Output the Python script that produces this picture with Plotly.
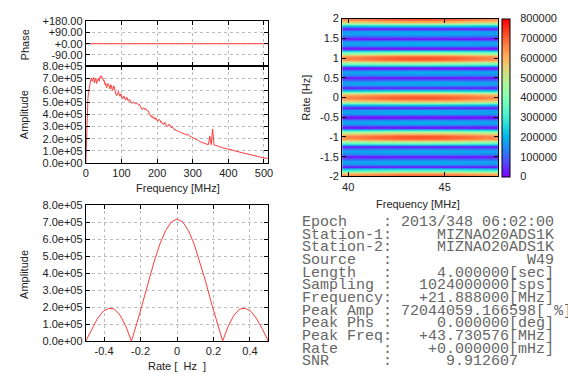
import math
import plotly.graph_objects as go

# ---------------- data ----------------
# Cross-power spectrum: amplitude vs frequency (MHz)
FREQ_MHZ = [
    0, 2, 4, 6, 8, 10, 12, 14, 16, 18, 20, 22, 24, 26, 28, 30, 32, 34, 36, 38,
    40, 42, 44, 46, 48, 50, 52, 54, 56, 58, 60, 62, 64, 66, 68, 70, 72, 74, 76,
    78, 80, 82, 84, 86, 88, 90, 92, 94, 96, 98, 100, 102, 104, 106, 108, 110,
    112, 114, 116, 118, 120, 122, 124, 126, 128, 130, 132, 134, 136, 138, 140,
    142, 144, 146, 148, 150, 152, 154, 156, 158, 160, 162, 164, 166, 168, 170,
    172, 174, 176, 178, 180, 182, 184, 186, 188, 190, 192, 194, 196, 198, 200,
    202, 204, 206, 208, 210, 212, 214, 216, 218, 220, 222, 224, 226, 228, 230,
    232, 234, 236, 238, 240, 242, 244, 246, 248, 250, 252, 254, 256, 258, 260,
    264, 268, 272, 276, 280, 284, 288, 292, 296, 300, 304, 308, 312, 316, 320,
    324, 328, 332, 336, 340, 344, 348, 352, 356, 360, 364, 368, 372, 376, 380,
    384, 388, 392, 396, 400, 404, 408, 412, 416, 420, 424, 428, 432, 436, 440,
    444, 448, 452, 456, 460, 464, 468, 472, 476, 480, 484, 488, 492, 496, 500,
    504, 508, 512,
]
AMPLITUDE = [
    0.0e5, 2.5e5, 4.5e5, 5.4e5, 5.9e5, 6.3e5, 6.5e5, 6.9e5, 7.0e5, 6.75e5,
    6.9e5, 7.05e5, 6.6e5, 6.85e5, 7.0e5, 6.55e5, 6.7e5, 6.95e5, 6.9e5, 6.75e5,
    7.15e5, 7.05e5, 7.2e5, 6.95e5, 7.0e5, 6.75e5, 6.8e5, 6.45e5, 6.6e5, 6.2e5,
    6.3e5, 6.55e5, 6.5e5, 6.1e5, 6.1e5, 6.45e5, 6.4e5, 6.05e5, 6.0e5,
    6.35e5, 6.3e5, 5.95e5, 5.8e5, 5.55e5, 5.6e5, 5.85e5, 5.9e5, 5.6e5, 5.5e5,
    5.7e5, 5.6e5, 5.35e5, 5.3e5, 5.5e5, 5.5e5, 5.25e5,
    5.2e5, 5.4e5, 5.4e5, 5.15e5, 5.1e5, 5.25e5, 5.2e5, 5.0e5, 5.0e5, 4.9e5,
    4.95e5, 5.05e5, 5.0e5, 4.85e5, 4.85e5,
    4.95e5, 4.9e5, 4.8e5, 4.8e5, 4.85e5, 4.75e5, 4.65e5, 4.6e5, 4.4e5, 4.5e5,
    4.55e5, 4.45e5, 4.4e5, 4.5e5, 4.4e5,
    4.3e5, 4.35e5, 4.2e5, 4.1e5, 4.0e5, 3.85e5, 3.9e5, 3.75e5, 3.85e5, 3.65e5,
    3.7e5, 3.6e5, 3.75e5, 3.55e5, 3.6e5,
    3.45e5, 3.5e5, 3.6e5, 3.55e5, 3.35e5, 3.4e5, 3.25e5, 3.3e5, 3.15e5, 3.2e5,
    3.35e5, 3.25e5, 3.05e5, 3.1e5, 3.0e5,
    3.05e5, 3.2e5, 3.15e5, 2.95e5, 2.9e5, 3.0e5, 2.95e5, 2.8e5, 2.8e5, 2.7e5,
    2.75e5, 2.65e5, 2.7e5, 2.6e5, 2.6e5,
    2.55e5, 2.5e5, 2.45e5, 2.4e5, 2.35e5, 2.3e5, 2.35e5, 2.2e5, 2.15e5, 2.1e5,
    2.0e5, 1.95e5, 1.9e5, 1.85e5, 1.75e5,
    1.7e5, 1.65e5, 1.6e5, 1.55e5, 1.5e5, 1.5e5, 2.2e5, 1.5e5, 2.8e5, 1.45e5,
    1.45e5, 1.4e5, 1.35e5, 1.35e5, 1.3e5,
    1.25e5, 1.22e5, 1.2e5, 1.18e5, 1.15e5, 1.1e5, 1.08e5, 1.05e5, 1.0e5,
    0.97e5, 0.95e5, 0.95e5, 0.93e5, 0.9e5, 0.87e5,
    0.83e5, 0.8e5, 0.77e5, 0.73e5, 0.7e5, 0.66e5, 0.62e5, 0.58e5, 0.54e5,
    0.5e5, 0.47e5, 0.44e5, 0.42e5, 0.4e5, 0.39e5,
    0.38e5, 0.38e5, 0.38e5,
]
PHASE_DEG = [0.0] * len(FREQ_MHZ)

# Fringe amplitude vs fringe rate (Hz), one period
RATE_HZ = [
    -0.5, -0.46875, -0.4375, -0.40625, -0.375, -0.34375, -0.3125, -0.28125,
    -0.25, -0.21875, -0.1875, -0.15625, -0.125, -0.09375, -0.0625, -0.03125,
    0.0, 0.03125, 0.0625, 0.09375, 0.125, 0.15625, 0.1875, 0.21875,
    0.25, 0.28125, 0.3125, 0.34375, 0.375, 0.40625, 0.4375, 0.46875, 0.5,
]
RATE_AMP = [
    0.0, 0.69e5, 1.30e5, 1.74e5, 1.93e5, 1.89e5, 1.53e5, 0.89e5,
    0.0, 1.09e5, 2.29e5, 3.53e5, 4.70e5, 5.73e5, 6.52e5, 7.03e5,
    7.20e5, 7.03e5, 6.52e5, 5.73e5, 4.70e5, 3.53e5, 2.29e5, 1.09e5,
    0.0, 0.89e5, 1.53e5, 1.89e5, 1.93e5, 1.74e5, 1.30e5, 0.69e5, 0.0,
]

# Rate/frequency map: peak level per frequency column
HEAT_FREQ = [39.7, 40.7, 41.7, 42.7, 43.7, 44.7, 45.7, 46.7, 47.7]
HEAT_PEAK = [6.6e5, 6.8e5, 7.0e5, 7.15e5, 7.2e5, 7.15e5, 7.0e5, 6.8e5, 6.6e5]
HEAT_RATE_STEP = 1 / 32
HEAT_RATE_MIN, HEAT_RATE_MAX = -2.0, 2.0

PHASE_TICKS = [-90, 0, 90, 180]
AMP_TICKS = [0, 1e5, 2e5, 3e5, 4e5, 5e5, 6e5, 7e5, 8e5]
FREQ_TICKS = [0, 100, 200, 300, 400, 500]
RATE_TICKS = [-0.4, -0.2, 0, 0.2, 0.4]
HEAT_X_TICKS = [40, 45]
HEAT_Y_TICKS = [-2, -1.5, -1, -0.5, 0, 0.5, 1, 1.5, 2]
CBAR_TICKS = [0, 100000, 200000, 300000, 400000, 500000, 600000, 700000, 800000]

INFO_LINES = [
    ("Epoch", "2013/348 06:02:00"),
    ("Station-1", "MIZNAO20ADS1K"),
    ("Station-2", "MIZNAO20ADS1K"),
    ("Source", "W49"),
    ("Length", "4.000000[sec]"),
    ("Sampling", "1024000000[sps]"),
    ("Frequency", "+21.888000[MHz]"),
    ("Peak Amp", "72044059.166598[ %]"),
    ("Peak Phs", "0.000000[deg]"),
    ("Peak Freq", "+43.730576[MHz]"),
    ("Rate", "+0.000000[mHz]"),
    ("SNR", "9.912607    "),
]

# ---------------- layout helpers ----------------
W, H = 568, 378


def fx(p):
    return p / W


def fy(p):
    return 1 - p / H


SANS = "Liberation Sans, Arial, sans-serif"
MONO = "Liberation Mono, Courier New, monospace"
TICK_FONT = dict(family=SANS, size=11, color="#222222")
LINE_RED = "#ff3b3b"
GRID = "#bdbdbd"


def rainbow(t):
    # gnuplot rgbformulae 33,13,10
    r = min(1.0, abs(2 * t - 0.5))
    g = max(0.0, math.sin(math.pi * t))
    b = max(0.0, math.cos(math.pi * t / 2))
    return f"rgb({round(r*255)},{round(g*255)},{round(b*255)})"


COLORSCALE = [[i / 20, rainbow(i / 20)] for i in range(21)]

# heatmap grid built from the rate profile (periodic, 1 Hz period)
n_period = len(RATE_AMP) - 1
heat_rates = []
heat_z = []
k = 0
while HEAT_RATE_MIN + k * HEAT_RATE_STEP <= HEAT_RATE_MAX + 1e-9:
    r = HEAT_RATE_MIN + k * HEAT_RATE_STEP
    idx = (k + n_period // 2) % n_period
    norm = RATE_AMP[idx] / max(RATE_AMP)
    heat_rates.append(r)
    heat_z.append([p * norm for p in HEAT_PEAK])
    k += 1

fig = go.Figure()

fig.add_trace(go.Scatter(x=FREQ_MHZ, y=PHASE_DEG, mode="lines",
                         line=dict(color=LINE_RED, width=1),
                         xaxis="x", yaxis="y", showlegend=False))
fig.add_trace(go.Scatter(x=FREQ_MHZ, y=AMPLITUDE, mode="lines",
                         line=dict(color=LINE_RED, width=1),
                         xaxis="x2", yaxis="y2", showlegend=False))
fig.add_trace(go.Heatmap(x=HEAT_FREQ, y=heat_rates, z=heat_z,
                         colorscale=COLORSCALE, zmin=0, zmax=800000,
                         zsmooth="best", xaxis="x3", yaxis="y3",
                         colorbar=dict(
                             x=fx(506), xanchor="left", xpad=0,
                             y=fy(94.5), yanchor="middle", ypad=0,
                             len=163 / H, lenmode="fraction",
                             thickness=8, thicknessmode="pixels",
                             outlinewidth=1, outlinecolor="black",
                             tickvals=CBAR_TICKS,
                             ticktext=[str(v) for v in CBAR_TICKS],
                             ticks="outside", ticklen=8,
                             tickcolor="rgba(0,0,0,0)",
                             tickfont=TICK_FONT,
                         )))
fig.add_trace(go.Scatter(x=RATE_HZ, y=RATE_AMP, mode="lines",
                         line=dict(color=LINE_RED, width=1),
                         xaxis="x4", yaxis="y4", showlegend=False))

frame = dict(showline=True, linecolor="black", linewidth=1, mirror="allticks",
             ticks="inside", ticklen=4, tickcolor="black", zeroline=False,
             tickfont=TICK_FONT)
grid = dict(showgrid=True, gridcolor=GRID, griddash="dot", gridwidth=1)

left_dom = [fx(84), fx(269)]

fig.update_layout(
    width=W, height=H,
    margin=dict(l=0, r=0, t=0, b=0),
    paper_bgcolor="white", plot_bgcolor="white",
    xaxis=dict(domain=left_dom, anchor="y", range=[0, 512],
               tickvals=FREQ_TICKS, showticklabels=False, **frame, **grid),
    yaxis=dict(domain=[fy(62), fy(16)], anchor="x", range=[-180, 180],
               tickvals=PHASE_TICKS,
               ticktext=[f"{v:+.2f}" for v in PHASE_TICKS], **frame, **grid),
    xaxis2=dict(domain=left_dom, anchor="y2", range=[0, 512],
                tickvals=FREQ_TICKS, ticktext=[str(v) for v in FREQ_TICKS],
                **frame, **grid),
    yaxis2=dict(domain=[fy(162), fy(62)], anchor="x2", range=[0, 8e5],
                tickvals=AMP_TICKS, ticktext=[f"{v:.1e}" for v in AMP_TICKS],
                **frame, **grid),
    xaxis3=dict(domain=[fx(344), fx(502)], anchor="y3", range=[39.69, 47.76],
                tickvals=HEAT_X_TICKS, ticktext=[str(v) for v in HEAT_X_TICKS],
                showgrid=False, **frame),
    yaxis3=dict(domain=[fy(176), fy(13)], anchor="x3", range=[-2, 2],
                tickvals=HEAT_Y_TICKS, ticktext=[f"{v:g}" for v in HEAT_Y_TICKS],
                showgrid=False, **frame),
    xaxis4=dict(domain=left_dom, anchor="y4", range=[-0.5, 0.5],
                tickvals=RATE_TICKS, ticktext=[f"{v:g}" for v in RATE_TICKS],
                **frame, **grid),
    yaxis4=dict(domain=[fy(346), fy(206)], anchor="x4", range=[0, 8e5],
                tickvals=AMP_TICKS, ticktext=[f"{v:.1e}" for v in AMP_TICKS],
                **frame, **grid),
)

title_font = dict(family=SANS, size=11, color="#222222")
titles = [
    ("Phase", 22, 40, -90),
    ("Amplitude", 22, 112, -90),
    ("Frequency [MHz]", 177, 188, 0),
    ("Rate [Hz]", 307, 95, -90),
    ("Frequency [MHz]", 421, 205, 0),
    ("Amplitude", 22, 277, -90),
    ("Rate [\u00a0\u00a0Hz\u00a0\u00a0]", 176, 372, 0),
]
for text, px, py, ang in titles:
    fig.add_annotation(text=text, x=fx(px), y=fy(py), xref="paper", yref="paper",
                       xanchor="center", yanchor="middle", textangle=ang,
                       showarrow=False, font=title_font)

# parameter block
for i, (label, value) in enumerate(INFO_LINES):
    line = label.ljust(9) + ": " + value.rjust(17)
    line = line.replace(" ", "\u00a0")
    fig.add_annotation(text=line, x=fx(301), y=fy(223.5 + i * 13.1),
                       xref="paper", yref="paper", xanchor="left",
                       yanchor="middle", showarrow=False,
                       font=dict(family=MONO, size=15, color="#666666"))

fig.write_html("out.html")
